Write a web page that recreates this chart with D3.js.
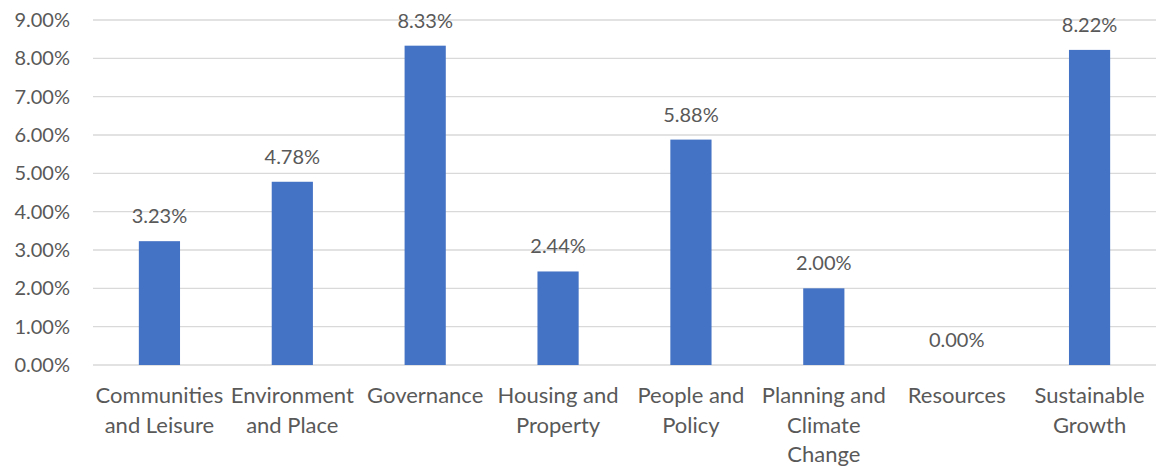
<!DOCTYPE html>
<html><head><meta charset="utf-8">
<script src="https://cdn.jsdelivr.net/npm/d3@7"></script>
<style>body{margin:0;background:#fff}svg{display:block}text{font-family:Lato,"Open Sans",sans-serif;fill:#595959}</style>
</head><body>
<svg id="c" width="1156" height="470"></svg>
<script>
const categories = [["Communities","and Leisure"],["Environment","and Place"],["Governance"],["Housing and","Property"],["People and","Policy"],["Planning and","Climate","Change"],["Resources"],["Sustainable","Growth"]];
const values = [3.23,4.78,8.33,2.44,5.88,2.00,0.00,8.22];
const yTicks = [0,1,2,3,4,5,6,7,8,9];

(function(){
const svg = d3.select("#c");
const mLeft = 93, mRight = 1156, mTop = 20, mBottom = 365;
const fs = 20, fsCat = 22;
const x = d3.scaleBand().domain(d3.range(values.length)).range([mLeft,mRight]).paddingInner(0.69).paddingOuter(0.345);
const y = d3.scaleLinear().domain([0,9]).range([mBottom,mTop]);

svg.append("g").selectAll("line").data(yTicks).join("line")
  .attr("x1",mLeft).attr("x2",mRight).attr("y1",d=>y(d)).attr("y2",d=>y(d))
  .attr("stroke","#d9d9d9").attr("stroke-width",1.3);

svg.append("g").selectAll("text").data(yTicks).join("text")
  .attr("x",70).attr("y",d=>y(d)).attr("dy","0.35em").attr("text-anchor","end")
  .style("font-size",fs+"px").text(d=>d.toFixed(2)+"%");

svg.append("g").selectAll("rect").data(values).join("rect")
  .attr("x",(d,i)=>x(i)).attr("width",x.bandwidth())
  .attr("y",d=>y(d)).attr("height",d=>mBottom-y(d)).attr("fill","#4472c4");

svg.append("g").selectAll("text").data(values).join("text")
  .attr("x",(d,i)=>x(i)+x.bandwidth()/2).attr("y",d=>y(d)-18).attr("text-anchor","middle")
  .style("font-size",fs+"px").text(d=>d.toFixed(2)+"%");

const cat = svg.append("g").selectAll("text").data(categories).join("text")
  .attr("text-anchor","middle").style("font-size",fsCat+"px");
cat.each(function(lines,i){
  d3.select(this).selectAll("tspan").data(lines).join("tspan")
    .attr("x",x(i)+x.bandwidth()/2).attr("y",(l,j)=>403+j*29.5).text(l=>l);
});
})();
</script>
</body></html>
